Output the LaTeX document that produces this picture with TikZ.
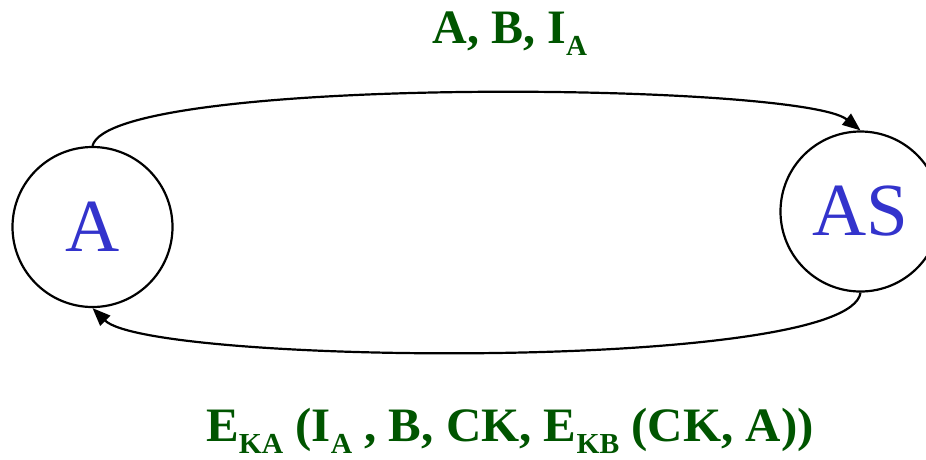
\documentclass[tikz,border=0pt]{standalone}
\usepackage{fontspec}
\setmainfont{Liberation Serif}
\usetikzlibrary{arrows.meta}
\definecolor{nodeblue}{HTML}{3333CC}
\definecolor{lblgreen}{HTML}{005500}
\newcommand{\lsub}[1]{\raisebox{-12pt}{\fontsize{29}{30}\selectfont #1}}
\begin{document}
\begin{tikzpicture}[x=1pt,y=-1pt,
  party/.style={circle,draw,line width=2.2pt,minimum size=160pt,inner sep=0pt,
    text=nodeblue,font=\fontsize{75}{77}\selectfont},
  msg/.style={-{Triangle[length=18pt,width=14pt]},line width=2.2pt},
  lbl/.style={text=lblgreen,font=\fontsize{48}{50}\selectfont\bfseries,anchor=base,inner sep=0pt}]
\useasboundingbox (0,0) rectangle (926,459);
\begin{scope}
\clip (0,0) rectangle (926,459);
\node[party] (A) at (92.5,227) {A};
\node[party] (AS) at (860.5,211.5) {AS};
\end{scope}
\draw[msg] (A.north) .. controls (110,75) and (800,82) .. (AS.north);
\draw[msg] (AS.south) .. controls (850,372) and (150,365) .. (A.south);
\node[lbl] (top) at (510,43) {A, B, I\lsub{A}};
\node[lbl] (bot) at (510,441) {\addfontfeature{FakeStretch=1.02}E\lsub{KA} (I\lsub{A} , B, CK, E\lsub{KB} (CK, A))};
\end{tikzpicture}
\end{document}
